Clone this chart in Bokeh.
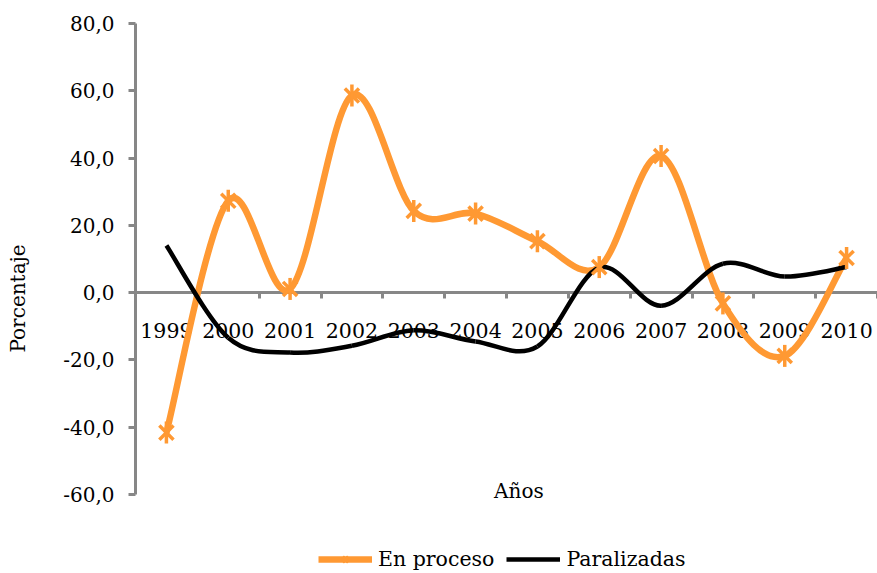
import numpy as np
from bokeh.plotting import figure
from bokeh.models import Range1d, FixedTicker, Legend, LegendItem, Label
from bokeh.core.properties import value
from bokeh.embed import file_html
from bokeh.resources import INLINE

# ---- data ----
years = ["1999", "2000", "2001", "2002", "2003", "2004",
         "2005", "2006", "2007", "2008", "2009", "2010"]
en_proceso = [-41.6, 27.3, 1.1, 58.6, 24.3, 23.5, 15.3, 7.6, 40.6, -3.2, -18.8, 10.3]
paralizadas = [14.0, -13.4, -17.8, -15.8, -11.2, -14.5, -16.0, 7.4, -3.9, 8.6, 4.8, 7.6]
y_ticks = [-60, -40, -20, 0, 20, 40, 60, 80]
y_tick_labels = ["-60,0", "-40,0", "-20,0", "0,0", "20,0", "40,0", "60,0", "80,0"]

FONT = "DejaVu Serif"
ORANGE = "#FF9933"
AXIS_GRAY = "#878787"

W, H = 877, 573
TOP, LEFT = 23, 135
AXIS_MIN, AXIS_MAX = y_ticks[0], y_ticks[-1]
AXIS_BOTTOM_PX = 494  # pixel row where the value axis ends
px_per_unit = (AXIS_BOTTOM_PX - TOP) / (AXIS_MAX - AXIS_MIN)
y_low = AXIS_MAX - (H - TOP) / px_per_unit  # frame reaches figure bottom

x = np.arange(len(years), dtype=float)


def smooth_segments(xs, ys, t=1.0 / 6.0):
    """Bezier control points (Catmull-Rom style) between consecutive points."""
    xs = np.asarray(xs, float)
    ys = np.asarray(ys, float)
    px = np.concatenate([[xs[0]], xs, [xs[-1]]])
    py = np.concatenate([[ys[0]], ys, [ys[-1]]])
    n = len(xs)
    x0, y0 = xs[:-1], ys[:-1]
    x1, y1 = xs[1:], ys[1:]
    cx0 = x0 + (px[2:n + 1] - px[0:n - 1]) * t
    cy0 = y0 + (py[2:n + 1] - py[0:n - 1]) * t
    cx1 = x1 - (px[3:n + 2] - px[1:n]) * t
    cy1 = y1 - (py[3:n + 2] - py[1:n]) * t
    return dict(x0=x0, y0=y0, x1=x1, y1=y1, cx0=cx0, cy0=cy0, cx1=cx1, cy1=cy1)


p = figure(width=W, height=H, output_backend="svg", toolbar_location=None,
           x_range=Range1d(-0.5, len(years) - 0.5), y_range=Range1d(y_low, AXIS_MAX),
           x_axis_location="above",
           min_border_left=LEFT, min_border_right=0, min_border_top=TOP,
           min_border_bottom=0)
p.outline_line_color = None
p.grid.visible = False
p.background_fill_color = "white"

# category axis drawn at the zero line, ticks between categories pointing down
xa = p.xaxis[0]
tick_pos = list(np.arange(len(years) + 1) - 0.5)
xa.ticker = FixedTicker(ticks=tick_pos)
xa.major_label_overrides = {t: "" for t in tick_pos}
xa.major_label_text_font_size = "8px"
xa.major_label_standoff = 0
xa.fixed_location = 0
xa.minor_tick_line_color = None
xa.major_tick_in = 6
xa.major_tick_out = 0
xa.axis_line_color = AXIS_GRAY
xa.axis_line_width = 3
xa.major_tick_line_color = AXIS_GRAY
xa.major_tick_line_width = 3
xa.level = "underlay"

ya = p.yaxis[0]
ya.ticker = FixedTicker(ticks=y_ticks)
ya.bounds = (AXIS_MIN, AXIS_MAX)
ya.major_label_overrides = {v: s for v, s in zip(y_ticks, y_tick_labels)}
ya.major_label_text_font = FONT
ya.major_label_text_font_size = "20px"
ya.major_label_text_color = "black"
ya.major_label_standoff = 14
ya.minor_tick_line_color = None
ya.major_tick_in = 0
ya.major_tick_out = 7
ya.axis_line_color = AXIS_GRAY
ya.axis_line_width = 3
ya.major_tick_line_color = AXIS_GRAY
ya.major_tick_line_width = 3
ya.axis_label = "Porcentaje"
ya.axis_label_text_font = FONT
ya.axis_label_text_font_size = "20px"
ya.axis_label_text_font_style = "normal"
ya.axis_label_text_color = "black"
ya.axis_label_standoff = 30

# category labels just below the zero line
p.text(x=x, y=np.zeros(len(years)), text=years, text_font=value(FONT),
       text_font_size="20.5px", text_align="center", text_baseline="middle",
       y_offset=38, text_color="black")

# smoothed series
seg_o = smooth_segments(x, en_proceso)
seg_b = smooth_segments(x, paralizadas)
r_orange = p.bezier(source=seg_o, x0="x0", y0="y0", x1="x1", y1="y1",
                    cx0="cx0", cy0="cy0", cx1="cx1", cy1="cy1",
                    line_color=ORANGE, line_width=6.5)
r_black = p.bezier(source=seg_b, x0="x0", y0="y0", x1="x1", y1="y1",
                   cx0="cx0", cy0="cy0", cx1="cx1", cy1="cy1",
                   line_color="black", line_width=4.5)
r_mx = p.scatter(x=x, y=en_proceso, marker="x", size=20,
                 line_color=ORANGE, line_width=3.5)
r_mv = p.scatter(x=x, y=en_proceso, marker="dash", angle=np.pi / 2, size=22,
                 line_color=ORANGE, line_width=3.5)

p.add_layout(Label(x=5.7, y=-59, text="Años", text_font=FONT,
                   text_font_size="20px", text_align="center",
                   text_baseline="middle", text_color="black"))

legend = Legend(items=[LegendItem(label="En proceso", renderers=[r_orange, r_mx]),
                       LegendItem(label="Paralizadas", renderers=[r_black])],
                orientation="horizontal", location=(183, 2),
                border_line_color=None, background_fill_alpha=0,
                label_text_font=FONT, label_text_font_size="20.5px",
                label_text_color="black",
                glyph_width=54, glyph_height=20, spacing=12, padding=0,
                margin=0, label_standoff=6)
p.add_layout(legend, "center")

open("out.html", "w").write(file_html(p, INLINE))
